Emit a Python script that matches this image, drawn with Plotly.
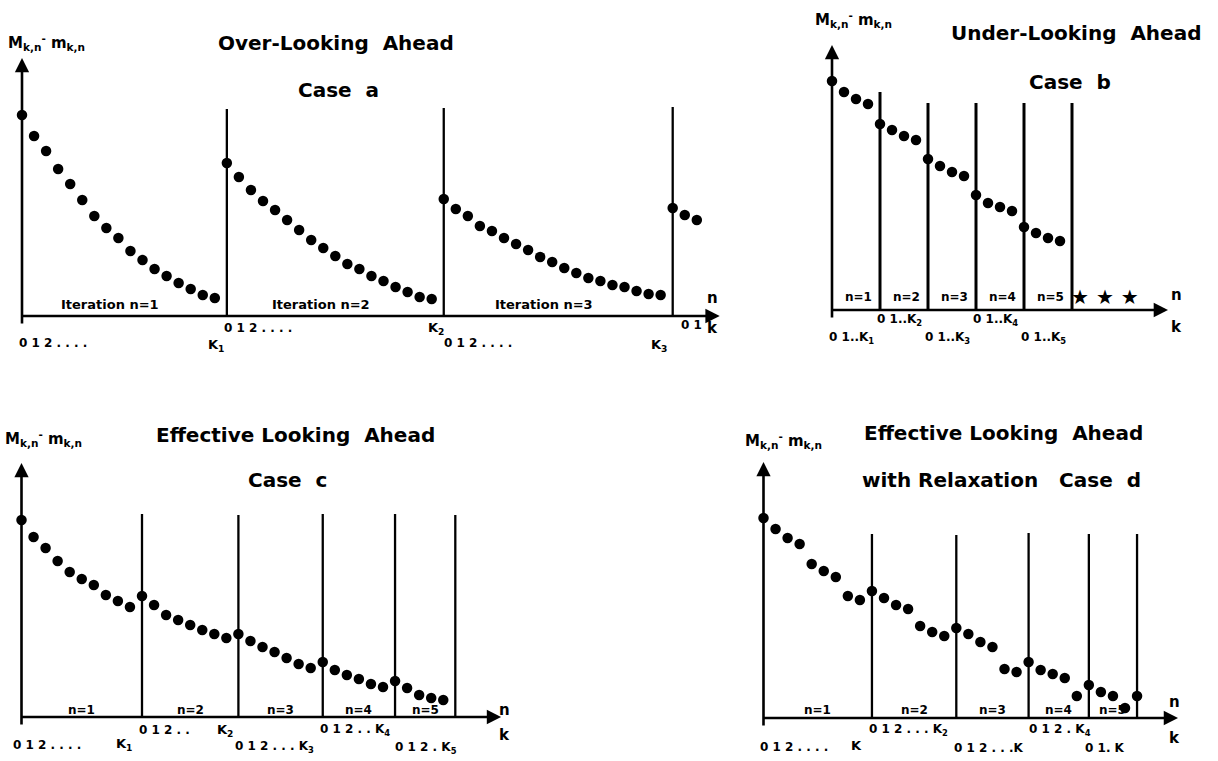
import plotly.graph_objects as go

W, H = 1218, 761

# ---------------- data ----------------
# Case a : Over-Looking Ahead  (values of M_kn - m_kn per iteration, k = 0,1,2,...)
a_iter1 = [2.01, 1.80, 1.65, 1.47, 1.32, 1.16, 1.00, 0.88, 0.78, 0.65, 0.56, 0.47, 0.40, 0.33, 0.27, 0.21, 0.18]
a_iter2 = [1.53, 1.39, 1.26, 1.15, 1.06, 0.96, 0.86, 0.76, 0.68, 0.60, 0.52, 0.47, 0.40, 0.35, 0.29, 0.24, 0.19, 0.17]
a_iter3 = [1.17, 1.07, 1.00, 0.90, 0.85, 0.78, 0.72, 0.66, 0.59, 0.54, 0.48, 0.43, 0.38, 0.35, 0.31, 0.29, 0.25, 0.22, 0.21]
a_iter4 = [1.08, 1.01, 0.96]
a_line_tops = [2.07, 2.08, 2.09]

# Case b : Under-Looking Ahead
b_iter1 = [2.29, 2.18, 2.11, 2.06]
b_iter2 = [1.86, 1.80, 1.74, 1.70]
b_iter3 = [1.51, 1.44, 1.38, 1.34]
b_iter4 = [1.15, 1.07, 1.03, 0.99]
b_iter5 = [0.83, 0.77, 0.72, 0.69]
b_line_tops = [2.18, 2.07, 2.07, 2.07, 2.07]

# Case c : Effective Looking Ahead
c_iter1 = [1.97, 1.80, 1.69, 1.56, 1.45, 1.38, 1.32, 1.22, 1.16, 1.10]
c_iter2 = [1.21, 1.12, 1.02, 0.97, 0.92, 0.87, 0.83, 0.79]
c_iter3 = [0.83, 0.76, 0.70, 0.65, 0.59, 0.53, 0.49]
c_iter4 = [0.55, 0.47, 0.42, 0.38, 0.33, 0.30]
c_iter5 = [0.36, 0.29, 0.22, 0.19, 0.17]
c_line_tops = [2.03, 2.02, 2.03, 2.03, 2.02]

# Case d : Effective Looking Ahead with Relaxation
d_iter1 = [2.00, 1.89, 1.80, 1.74, 1.54, 1.47, 1.41, 1.22, 1.18]
d_iter2 = [1.27, 1.20, 1.13, 1.09, 0.92, 0.86, 0.82]
d_iter3 = [0.90, 0.84, 0.76, 0.71, 0.49, 0.46]
d_iter4 = [0.56, 0.48, 0.44, 0.40, 0.22]
d_iter5 = [0.33, 0.26, 0.22, 0.10]
d_iter6 = [0.22]
d_line_tops = [1.84, 1.83, 1.85, 1.84, 1.84]

# tick / region labels
a_region_labels = ["Iteration n=1", "Iteration n=2", "Iteration n=3"]
n_labels = ["n=1", "n=2", "n=3", "n=4", "n=5"]

FONT = "DejaVu Sans"
BLACK = "black"

# ---------------- panel geometry (pixel calibration) ----------------
# origin pixel (ox, oy), pixels per k step, pixels per value unit, domain box (L, R, T, B) in px
panels = {
    "a": dict(ox=22, oy=316, sx=12.05, sy=100, box=(0, 745, 0, 378), axis="1"),
    "b": dict(ox=832, oy=310, sx=12.0, sy=100, box=(755, 1218, 0, 378), axis="2"),
    "c": dict(ox=21.5, oy=717, sx=12.05, sy=100, box=(0, 705, 385, 761), axis="3"),
    "d": dict(ox=763.5, oy=718, sx=12.05, sy=100, box=(715, 1218, 385, 761), axis="4"),
}

fig = go.Figure()
layout_axes = {}
for key, p in panels.items():
    L, R, T, B = p["box"]
    xr = [(L - p["ox"]) / p["sx"], (R - p["ox"]) / p["sx"]]
    yr = [(p["oy"] - B) / p["sy"], (p["oy"] - T) / p["sy"]]
    n = p["axis"]
    xname = "xaxis" if n == "1" else "xaxis" + n
    yname = "yaxis" if n == "1" else "yaxis" + n
    layout_axes[xname] = dict(domain=[L / W, R / W], range=xr, visible=False,
                              anchor="y" if n == "1" else "y" + n, fixedrange=True)
    layout_axes[yname] = dict(domain=[1 - B / H, 1 - T / H], range=yr, visible=False,
                              anchor="x" if n == "1" else "x" + n, fixedrange=True)
fig.update_layout(**layout_axes)


def refs(key):
    n = panels[key]["axis"]
    return ("x" if n == "1" else "x" + n), ("y" if n == "1" else "y" + n)


def add_panel(key, iterations, line_tops, lw):
    xr_, yr_ = refs(key)
    xs, ys = [], []
    bounds = [0]
    off = 0
    for vals in iterations:
        for k, v in enumerate(vals):
            xs.append(off + k)
            ys.append(v)
        off += len(vals)
        bounds.append(off)
    # vertical restart lines at the end of each complete iteration
    lx, ly = [], []
    for i, top in enumerate(line_tops):
        b = bounds[i + 1]
        lx += [b, b, None]
        ly += [0, top, None]
    fig.add_trace(go.Scatter(x=lx, y=ly, mode="lines", line=dict(color=BLACK, width=lw),
                             xaxis=xr_, yaxis=yr_, hoverinfo="skip", showlegend=False))
    fig.add_trace(go.Scatter(x=xs, y=ys, mode="markers",
                             marker=dict(color=BLACK, size=10.5, line=dict(width=0)),
                             xaxis=xr_, yaxis=yr_, showlegend=False, cliponaxis=False))
    return bounds


annotations = []


def axis_arrows(key, xtip, ytip):
    xr_, yr_ = refs(key)
    common = dict(xref=xr_, yref=yr_, axref=xr_, ayref=yr_, showarrow=True, text="",
                  arrowhead=2, arrowsize=1.1, arrowwidth=2.6, arrowcolor=BLACK, standoff=0,
                  font=dict(family=FONT, size=12, color=BLACK))
    annotations.append(dict(x=xtip, y=0, ax=-0.1, ay=0, **common))
    annotations.append(dict(x=0, y=ytip, ax=0, ay=-0.09, **common))


def dtext(key, x, y, text, size=12, xanchor="center", xshift=0, yshift=0):
    xr_, yr_ = refs(key)
    annotations.append(dict(x=x, y=y, xref=xr_, yref=yr_, text=text, showarrow=False,
                            xanchor=xanchor, yanchor="middle", xshift=xshift, yshift=yshift,
                            font=dict(family=FONT, size=size, color=BLACK)))


def ptext(px, py, text, size=20, xanchor="center"):
    annotations.append(dict(x=px / W, y=1 - py / H, xref="paper", yref="paper", text=text,
                            showarrow=False, xanchor=xanchor, yanchor="middle",
                            font=dict(family=FONT, size=size, color=BLACK)))


YLAB = "M<sub>k,n</sub><sup>-</sup> m<sub>k,n</sub>"

# ---------------- Case a ----------------
Ba = add_panel("a", [a_iter1, a_iter2, a_iter3, a_iter4], a_line_tops, 2.3)
axis_arrows("a", 57.9, 2.58)
for i, lab in enumerate(a_region_labels):
    dtext("a", (Ba[i] + Ba[i + 1]) / 2, 0.12, "<b>" + lab + "</b>", 13, xshift=-14)
dtext("a", Ba[0], -0.27, "<b>0 1 2 . . . .</b>", 12, "left", xshift=-5)
dtext("a", Ba[1], -0.29, "<b>K<sub>1</sub></b>", 13, "right", xshift=-1)
dtext("a", Ba[1], -0.12, "<b>0 1 2 . . . .</b>", 12, "left", xshift=-5)
dtext("a", Ba[2], -0.12, "<b>K<sub>2</sub></b>", 13, "right", xshift=2)
dtext("a", Ba[2], -0.27, "<b>0 1 2 . . . .</b>", 12, "left", xshift=-2)
dtext("a", Ba[3], -0.29, "<b>K<sub>3</sub></b>", 13, "right", xshift=-4)
dtext("a", Ba[3], -0.09, "<b>0 1</b>", 12, "left", xshift=6)
dtext("a", 57.3, 0.18, "<b>n</b>", 15)
dtext("a", 57.3, -0.12, "<b>k</b>", 15)
ptext(336, 43, "<b>Over-Looking&nbsp; Ahead</b>", 20)
ptext(338, 90, "<b>Case&nbsp; a</b>", 20)
ptext(6, 42, "<b>" + YLAB + "</b>", 15, "left")

# ---------------- Case b ----------------
Bb = add_panel("b", [b_iter1, b_iter2, b_iter3, b_iter4, b_iter5], b_line_tops, 3)
axis_arrows("b", 28.0, 2.65)
for i, lab in enumerate(n_labels):
    dtext("b", (Bb[i] + Bb[i + 1]) / 2, 0.13, "<b>" + lab + "</b>", 12, xshift=2)
    dtext("b", Bb[i], -0.28 if i % 2 == 0 else -0.10,
          "<b>0 1..K<sub>%d</sub></b>" % (i + 1), 12, "left", xshift=-5)
dtext("b", Bb[5] + 2.75, 0.13, "<b>\u2605 \u2605 \u2605</b>", 20)
dtext("b", 28.7, 0.15, "<b>n</b>", 15)
dtext("b", 28.7, -0.17, "<b>k</b>", 15)
ptext(1076, 33, "<b>Under-Looking&nbsp; Ahead</b>", 20)
ptext(1070, 82, "<b>Case&nbsp; b</b>", 20)
ptext(813, 20, "<b>" + YLAB + "</b>", 15, "left")

# ---------------- Case c ----------------
Bc = add_panel("c", [c_iter1, c_iter2, c_iter3, c_iter4, c_iter5], c_line_tops, 2.3)
axis_arrows("c", 39.8, 2.54)
for i, lab in enumerate(n_labels):
    dtext("c", (Bc[i] + Bc[i + 1]) / 2, 0.07, "<b>" + lab + "</b>", 12)
dtext("c", Bc[0], -0.28, "<b>0 1 2 . . . .</b>", 12, "left", xshift=-11)
dtext("c", Bc[1], -0.27, "<b>K<sub>1</sub></b>", 13, "right", xshift=-8)
dtext("c", Bc[1], -0.13, "<b>0 1 2 . .</b>", 12, "left", xshift=-5)
dtext("c", Bc[2], -0.13, "<b>K<sub>2</sub></b>", 13, "right", xshift=-3)
dtext("c", Bc[2], -0.30, "<b>0 1 2 . . . K<sub>3</sub></b>", 12, "left", xshift=-5)
dtext("c", Bc[3], -0.13, "<b>0 1 2 . . K<sub>4</sub></b>", 12, "left", xshift=-5)
dtext("c", Bc[4], -0.31, "<b>0 1 2 . K<sub>5</sub></b>", 12, "left", xshift=-2)
dtext("c", 40.1, 0.07, "<b>n</b>", 15)
dtext("c", 40.1, -0.18, "<b>k</b>", 15)
ptext(295, 435, "<b>Effective Looking&nbsp; Ahead</b>", 20)
ptext(287, 480, "<b>Case&nbsp; c</b>", 20)
ptext(3, 438, "<b>" + YLAB + "</b>", 15, "left")

# ---------------- Case d ----------------
Bd = add_panel("d", [d_iter1, d_iter2, d_iter3, d_iter4, d_iter5, d_iter6], d_line_tops, 2.3)
axis_arrows("d", 34.4, 2.56)
for i, lab in enumerate(n_labels):
    dtext("d", (Bd[i] + Bd[i + 1]) / 2, 0.08, "<b>" + lab + "</b>", 12)
dtext("d", Bd[0], -0.29, "<b>0 1 2 . . . .</b>", 12, "left", xshift=-6)
dtext("d", Bd[1], -0.27, "<b>K</b>", 13, "right", xshift=-8)
dtext("d", Bd[1], -0.12, "<b>0 1 2 . . . K<sub>2</sub></b>", 12, "left", xshift=-5)
dtext("d", Bd[2], -0.30, "<b>0 1 2 . . .K</b>", 12, "left", xshift=-4)
dtext("d", Bd[3], -0.12, "<b>0 1 2 . K<sub>4</sub></b>", 12, "left", xshift=-2)
dtext("d", Bd[4], -0.30, "<b>0 1. K</b>", 12, "left", xshift=-6)
dtext("d", 34.1, 0.16, "<b>n</b>", 15)
dtext("d", 34.1, -0.20, "<b>k</b>", 15)
ptext(1003, 433, "<b>Effective Looking&nbsp; Ahead</b>", 20)
ptext(1001, 480, "<b>with Relaxation&nbsp;&nbsp; Case&nbsp; d</b>", 20)
ptext(743, 440, "<b>" + YLAB + "</b>", 15, "left")

fig.update_layout(
    width=W, height=H, margin=dict(l=0, r=0, t=0, b=0),
    paper_bgcolor="white", plot_bgcolor="white",
    showlegend=False, annotations=annotations,
    font=dict(family=FONT, size=12, color=BLACK),
)

# remove the default 8px page margin so the figure sits at the window origin
fig.write_html("out.html", config={"displayModeBar": False},
               post_script="document.body.style.margin='0px';")
